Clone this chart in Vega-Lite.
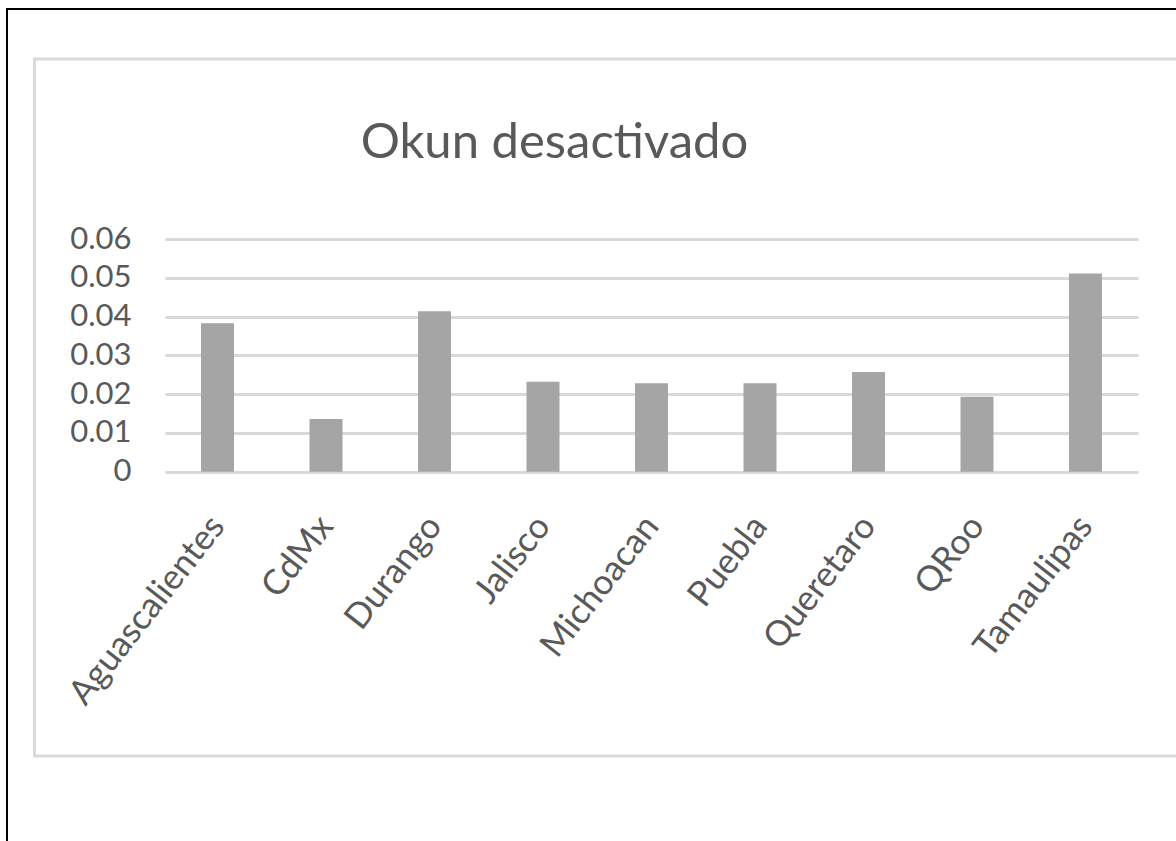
{
  "$schema": "https://vega.github.io/schema/vega-lite/v6.json",
  "autosize": "none",
  "width": 973,
  "height": 232.7,
  "padding": {"left": 165, "top": 239, "right": 38, "bottom": 369.3},
  "background": "white",
  "title": {
    "text": "Okun desactivado",
    "font": "Lato",
    "fontSize": 49,
    "fontWeight": "normal",
    "color": "#595959",
    "anchor": "middle",
    "frame": "group",
    "dx": -97,
    "offset": -199,
    "baseline": "alphabetic"
  },
  "config": {
    "view": {"stroke": null},
    "font": "Lato",
    "axisY": {
      "labelOverlap": false,
      "labelBound": false,
      "labelFont": "Lato",
      "labelFontSize": 31,
      "labelColor": "#595959",
      "labelPadding": 34,
      "ticks": false,
      "tickSize": 0,
      "domain": false,
      "grid": true,
      "gridColor": "#d9d9d9",
      "gridWidth": 3
    }
  },
  "data": {
    "values": [
      {"estado": "Aguascalientes", "valor": 0.0383},
      {"estado": "CdMx", "valor": 0.0136},
      {"estado": "Durango", "valor": 0.0414},
      {"estado": "Jalisco", "valor": 0.0232},
      {"estado": "Michoacan", "valor": 0.0228},
      {"estado": "Puebla", "valor": 0.0228},
      {"estado": "Queretaro", "valor": 0.0257},
      {"estado": "QRoo", "valor": 0.0193},
      {"estado": "Tamaulipas", "valor": 0.0511}
    ]
  },
  "layer": [
    {
      "data": {"values": [{}]},
      "mark": {"type": "rect", "fill": null, "stroke": "#000000", "strokeWidth": 2, "clip": false},
      "encoding": {
        "x": {"datum": -0.1624, "type": "quantitative", "scale": {"domain": [0, 1], "nice": false, "zero": false}, "axis": null},
        "x2": {"datum": 1.0637},
        "y": {"datum": 0.11931, "type": "quantitative", "axis": {"title": null, "values": [0, 0.01, 0.02, 0.03, 0.04, 0.05, 0.06], "format": ".2~f"}},
        "y2": {"datum": -0.10012}
      }
    },
    {
      "data": {"values": [{}]},
      "mark": {"type": "rect", "fill": null, "stroke": "#d9d9d9", "strokeWidth": 3, "clip": false},
      "encoding": {
        "x": {"datum": -0.1341, "type": "quantitative", "scale": {"domain": [0, 1], "nice": false, "zero": false}, "axis": null},
        "x2": {"datum": 1.0534},
        "y": {"datum": 0.10641, "type": "quantitative", "axis": {"title": null, "values": [0, 0.01, 0.02, 0.03, 0.04, 0.05, 0.06], "format": ".2~f"}},
        "y2": {"datum": -0.07331}
      }
    },
    {
      "mark": {"type": "bar", "color": "#a5a5a5"},
      "encoding": {
        "x": {
          "field": "estado",
          "type": "nominal",
          "sort": null,
          "scale": {"paddingInner": 0.696, "paddingOuter": 0.332},
          "axis": {
            "title": null,
            "labelAngle": -52,
            "labelAlign": "right",
            "labelBaseline": "middle",
            "labelFont": "Lato",
            "labelFontSize": 35,
            "labelColor": "#595959",
            "labelPadding": 48,
            "labelLimit": 500,
            "labelOverlap": false,
            "ticks": false,
            "domain": false,
            "grid": false
          }
        },
        "y": {
          "field": "valor",
          "type": "quantitative",
          "scale": {"domain": [0, 0.06], "nice": false},
          "axis": {"title": null, "values": [0, 0.01, 0.02, 0.03, 0.04, 0.05, 0.06], "format": ".2~f"}
        }
      }
    }
  ],
  "resolve": {"scale": {"x": "independent"}}
}
